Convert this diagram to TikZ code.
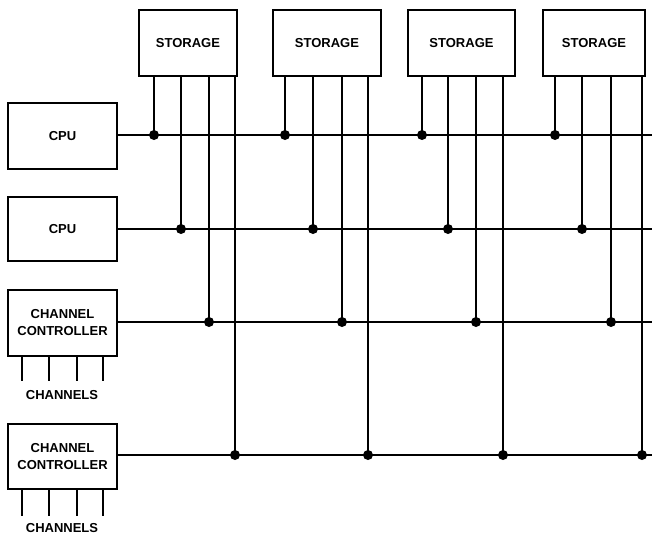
\documentclass[tikz,border=0pt]{standalone}
\usepackage{fontspec}
\setmainfont{Liberation Sans}
\usetikzlibrary{positioning}

\begin{document}
\begin{tikzpicture}[
  x=1pt,y=-1pt,
  unit/.style={draw,line width=2.2pt,minimum width=104pt,minimum height=66pt,inner sep=0pt,align=center},
  cpubox/.style={unit,minimum width=109pt},
  wire/.style={line width=1.8pt},
  joint/.style={circle,fill,inner sep=0pt,minimum size=10pt},
  every node/.style={font=\fontsize{13}{17}\selectfont\bfseries}
]
  \useasboundingbox (0,0) rectangle (652,538);

  % storage modules
  \node[unit,minimum width=98pt] (st1) at (188,43) {STORAGE};
  \node[unit,minimum width=108pt] (st2) at (327,43) {STORAGE};
  \node[unit,minimum width=107pt] (st3) at (461.5,43) {STORAGE};
  \node[unit,minimum width=102pt] (st4) at (594,43) {STORAGE};

  % processors and channel controllers
  \node[cpubox] (cpu1) at (62.5,136) {CPU};
  \node[cpubox,minimum height=64pt] (cpu2) at (62.5,229) {CPU};
  \node[cpubox] (cc1) at (62.5,323) {CHANNEL\\CONTROLLER};
  \node[cpubox,minimum height=65pt] (cc2) at (62.5,456.5) {CHANNEL\\CONTROLLER};

  % buses to the right edge
  \coordinate (bus1) at (652,135);
  \coordinate (bus2) at (652,229);
  \coordinate (bus3) at (652,322);
  \coordinate (bus4) at (652,455);
  \draw[wire] (cpu1.east |- bus1) -- (bus1);
  \draw[wire] (cpu2.east |- bus2) -- (bus2);
  \draw[wire] (cc1.east |- bus3) -- (bus3);
  \draw[wire] (cc2.east |- bus4) -- (bus4);

  % storage taps
  \foreach \s/\xa/\xb/\xc/\xd in {1/154/181/209/235,2/285/313/342/368,3/422/448/476/503,4/555/582/611/642}{
    \node[joint] (j\s a) at (\xa,135) {};
    \node[joint] (j\s b) at (\xb,229) {};
    \node[joint] (j\s c) at (\xc,322) {};
    \node[joint] (j\s d) at (\xd,455) {};
    \foreach \k in {a,b,c,d}
      \draw[wire] (st\s.south -| j\s\k) -- (j\s\k.center);
  }

  % channels
  \foreach \x [count=\i] in {22,49,77,103}{
    \coordinate (cha\i) at (\x,381);
    \coordinate (chb\i) at (\x,516);
    \draw[wire] (cc1.south -| cha\i) -- (cha\i);
    \draw[wire] (cc2.south -| chb\i) -- (chb\i);
  }
  \node (chl1) at (62,395) {CHANNELS};
  \node (chl2) at (62,528) {CHANNELS};
\end{tikzpicture}
\end{document}
